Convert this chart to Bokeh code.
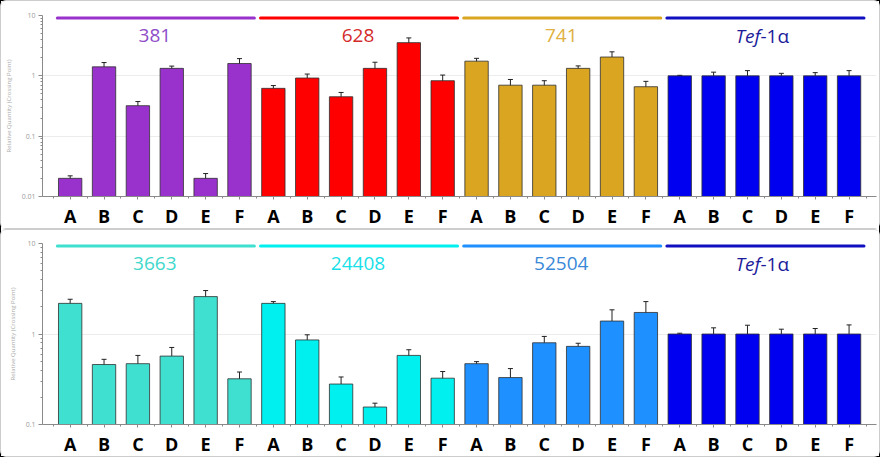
import math
from bokeh.plotting import figure
from bokeh.layouts import column
from bokeh.models import Range1d, FixedTicker, ColumnDataSource, Whisker, TeeHead
from bokeh.core.properties import value
from bokeh.embed import file_html
from bokeh.resources import INLINE

samples = ["A", "B", "C", "D", "E", "F"]

# top panel
top_genes = ["381", "628", "741", "Tef-1α"]
top_381 = [0.020, 1.41, 0.32, 1.33, 0.020, 1.60]
top_381_err = [0.002, 0.25, 0.055, 0.12, 0.004, 0.33]
top_628 = [0.62, 0.92, 0.45, 1.33, 3.55, 0.83]
top_628_err = [0.07, 0.15, 0.08, 0.35, 0.7, 0.2]
top_741 = [1.75, 0.70, 0.70, 1.33, 2.05, 0.66]
top_741_err = [0.2, 0.17, 0.13, 0.13, 0.45, 0.15]
top_tef = [1.0, 1.0, 1.0, 1.0, 1.0, 1.0]
top_tef_err = [0.02, 0.15, 0.22, 0.10, 0.13, 0.22]

# bottom panel
bot_genes = ["3663", "24408", "52504", "Tef-1α"]
bot_3663 = [2.18, 0.46, 0.47, 0.57, 2.59, 0.32]
bot_3663_err = [0.24, 0.065, 0.11, 0.14, 0.43, 0.06]
bot_24408 = [2.18, 0.86, 0.28, 0.156, 0.58, 0.325]
bot_24408_err = [0.10, 0.12, 0.055, 0.016, 0.09, 0.06]
bot_52504 = [0.47, 0.33, 0.80, 0.73, 1.39, 1.73]
bot_52504_err = [0.025, 0.085, 0.14, 0.06, 0.46, 0.55]
bot_tef = [1.0, 1.0, 1.0, 1.0, 1.0, 1.0]
bot_tef_err = [0.02, 0.17, 0.25, 0.13, 0.15, 0.26]

top_bar_colors = ["#9932CC", "#FF0000", "#DAA520", "#0000F0"]
top_text_colors = ["#8E4CC8", "#D42A2A", "#E0B040", "#1C1C9A"]
bot_bar_colors = ["#40E0D0", "#00F0F0", "#1E90FF", "#0000F0"]
bot_text_colors = ["#40D8CC", "#18E0E8", "#3A88D8", "#1C1C9A"]

y_label = "Relative Quantity (Crossing Point)"


def make_panel(genes, series, errs, bar_colors, text_colors, ymin, height,
               top_border, bottom_border):
    p = figure(width=880, height=height, y_axis_type="log",
               x_range=Range1d(-0.817, 23.81), y_range=Range1d(ymin, 10),
               output_backend="svg", toolbar_location=None,
               min_border_left=40, min_border_right=5,
               min_border_top=top_border, min_border_bottom=bottom_border)
    p.outline_line_color = None
    p.background_fill_color = "white"
    p.border_fill_color = "white"
    p.styles = {"border": "1px solid #cdcdcd", "border-radius": "6px",
                "box-sizing": "border-box"}

    xs, tops, lows, ups, cols = [], [], [], [], []
    for g, (vals, ers) in enumerate(zip(series, errs)):
        for i, (v, e) in enumerate(zip(vals, ers)):
            xs.append(g * 6 + i)
            tops.append(v)
            lows.append(v - e)
            ups.append(v + e)
            cols.append(bar_colors[g])
    src = ColumnDataSource(dict(x=xs, top=tops, lower=lows, upper=ups, color=cols))
    p.vbar(x="x", top="top", bottom=ymin, width=0.69, fill_color="color",
           line_color="#303030", line_width=1, line_alpha=0.8, source=src)
    w = Whisker(base="x", lower="lower", upper="upper", source=src,
                line_color="#222222", line_width=1,
                upper_head=TeeHead(size=5, line_color="#222222", line_width=1),
                lower_head=TeeHead(size=5, line_color="#222222", line_width=1))
    p.add_layout(w)

    # group header lines and labels
    decades = math.log10(10 / ymin)
    fh = 187.0
    line_y = 10 ** (1 - 2.5 / (fh / decades))
    lab_y = 10 ** (1 - 21.0 / (fh / decades))
    for g, gname in enumerate(genes):
        x0 = g * 6 - 0.38
        x1 = g * 6 + 5 + 0.44
        p.segment(x0=[x0], x1=[x1], y0=[line_y], y1=[line_y], line_width=3,
                  line_color=bar_colors[g] if g < 3 else "#1010C0", line_cap="round")
        cx = g * 6 + 2.5
        if gname.startswith("Tef"):
            p.text(x=[cx], y=[lab_y], text=["Tef"], text_color=text_colors[g],
                   text_font=value("Open Sans"), text_font_style="italic",
                   text_font_size="19px", text_align="right", text_baseline="middle",
                   x_offset=-4)
            p.text(x=[cx], y=[lab_y], text=[gname[3:]], text_color=text_colors[g],
                   text_font=value("Open Sans"), text_font_size="19px",
                   text_align="left", text_baseline="middle", x_offset=-4)
        else:
            p.text(x=[cx], y=[lab_y], text=[gname], text_color=text_colors[g],
                   text_font=value("Open Sans"), text_font_size="19px",
                   text_align="center", text_baseline="middle")

    # axes
    p.xaxis.ticker = FixedTicker(ticks=list(range(24)),
                                 minor_ticks=[i + 0.5 for i in range(-1, 24)])
    p.xaxis.major_label_overrides = {i: samples[i % 6] for i in range(24)}
    p.xaxis.major_label_text_font = "Open Sans"
    p.xaxis.major_label_text_font_style = "bold"
    p.xaxis.major_label_text_font_size = "18px"
    p.xaxis.major_label_text_color = "black"
    p.xaxis.major_label_standoff = 4
    p.xaxis.axis_line_color = "#8a8a8a"
    p.xaxis.major_tick_line_color = "#8a8a8a"
    p.xaxis.minor_tick_line_color = "#8a8a8a"
    p.xaxis.major_tick_in = 0
    p.xaxis.major_tick_out = 3
    p.xaxis.minor_tick_in = 0
    p.xaxis.minor_tick_out = 2

    lo = int(round(math.log10(ymin)))
    majors = [10.0 ** k for k in range(lo, 2)]
    minors = [m * 10.0 ** k for k in range(lo, 1) for m in range(2, 10)]
    p.yaxis.ticker = FixedTicker(ticks=majors, minor_ticks=minors)
    p.yaxis.major_label_overrides = {v: ("%g" % v) for v in majors}
    p.yaxis.major_label_text_font = "Open Sans"
    p.yaxis.major_label_text_font_size = "7px"
    p.yaxis.major_label_text_color = "#9a9a9a"
    p.yaxis.major_label_standoff = 3
    p.yaxis.axis_label = y_label
    p.yaxis.axis_label_text_font = "Open Sans"
    p.yaxis.axis_label_text_font_size = "6px"
    p.yaxis.axis_label_text_font_style = "normal"
    p.yaxis.axis_label_text_color = "#aaaaaa"
    p.yaxis.axis_label_standoff = 6
    p.yaxis.axis_line_color = "#8a8a8a"
    p.yaxis.major_tick_line_color = "#8a8a8a"
    p.yaxis.minor_tick_line_color = "#8a8a8a"
    p.yaxis.major_tick_in = 0
    p.yaxis.major_tick_out = 4
    p.yaxis.minor_tick_in = 0
    p.yaxis.minor_tick_out = 2

    p.xgrid.grid_line_color = None
    p.ygrid.grid_line_color = "#ececec"
    p.ygrid.minor_grid_line_color = None
    return p


p1 = make_panel(top_genes, [top_381, top_628, top_741, top_tef],
                [top_381_err, top_628_err, top_741_err, top_tef_err],
                top_bar_colors, top_text_colors, 0.01, 229, 14, 28)
p2 = make_panel(bot_genes, [bot_3663, bot_24408, bot_52504, bot_tef],
                [bot_3663_err, bot_24408_err, bot_52504_err, bot_tef_err],
                bot_bar_colors, bot_text_colors, 0.1, 228, 13, 28)

layout = column(p1, p2, spacing=0,
                styles={"outline": "1px solid black", "outline-offset": "-1px"})
open("out.html", "w").write(file_html(layout, INLINE))
